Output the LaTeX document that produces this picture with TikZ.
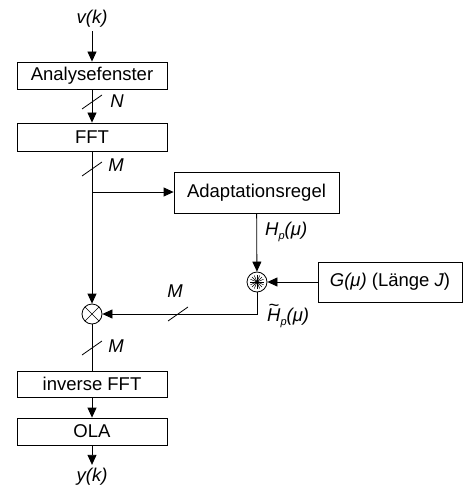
\documentclass[tikz,border=0pt]{standalone}
\usepackage{fontspec}
\setmainfont{Liberation Sans}
\usetikzlibrary{arrows.meta,calc,positioning}

\newcommand{\subp}{\raisebox{-4pt}{\fontsize{11}{11}\selectfont\itshape p}}
\newcommand{\tildeH}{\ooalign{\itshape H\cr\hidewidth\raisebox{0.5em}{\itshape\char"7E}\hidewidth\cr}}

\tikzset{
  blockbox/.style={draw, line width=0.8pt, minimum width=150pt, minimum height=27pt, inner sep=0pt},
  sigline/.style={line width=0.8pt},
  sigarrow/.style={sigline, -{Triangle[length=10pt,width=9pt]}},
  opcirc/.style={draw, circle, line width=0.8pt, minimum size=20pt, inner sep=0pt},
  multcross/.style={path picture={
      \draw[line width=0.7pt] (path picture bounding box.south west) -- (path picture bounding box.north east)
        (path picture bounding box.north west) -- (path picture bounding box.south east);}},
  convstar/.style={path picture={
      \foreach \a in {0,22.5,...,157.5}
        \draw[line width=0.5pt] ($(path picture bounding box.center)+(\a:7pt)$) -- ($(path picture bounding box.center)+(\a+180:7pt)$);}},
  busmark/.pic={\draw[line width=0.8pt] (-10pt,-7pt) -- (10pt,7pt);},
}

\begin{document}
\begin{tikzpicture}[x=1pt, y=-1pt, font=\fontsize{18.5}{22}\selectfont]
  \useasboundingbox (0,0) rectangle (463,486);

  % blocks
  \node[blockbox] (win) at (92,75.5) {Analysefenster};
  \node[blockbox, minimum height=28pt] (fft) at (92,137) {FFT};
  \node[blockbox, minimum width=165pt, minimum height=41pt] (adapt) at (256.5,192.5) {Adaptationsregel};
  \node[blockbox, minimum width=144pt, minimum height=40pt] (gbox) at (390,282) {\textit{G(μ)} (Länge \textit{J})};
  \node[blockbox, minimum height=26pt] (ifft) at (92,384) {inverse FFT};
  \node[blockbox] (ola) at (92,431.5) {OLA};

  % operators
  \node[opcirc, convstar] (conv) at (257,282) {};
  \node[opcirc, multcross] (mult) at (92,314) {};

  % signals
  \node (vin) at (92,19) {\textit{v(k)}};
  \node (yout) at (92,477) {\textit{y(k)}};
  \coordinate (split) at (92,192);
  \coordinate (bend) at (conv |- mult);

  \draw[sigarrow] (vin) -- (win);
  \draw[sigarrow] (win) -- (fft);
  \draw[sigarrow] (fft) -- (mult);
  \draw[sigarrow] (split) -- (split -| adapt.west);
  \draw[sigarrow] (adapt) -- (conv);
  \draw[sigarrow] (gbox) -- (conv);
  \draw[sigarrow] (conv) -- (bend) -- (mult);
  \draw[sigline] (mult) -- (ifft);
  \draw[sigarrow] (ifft) -- (ola);
  \draw[sigarrow] (ola) -- (yout);

  % bus widths
  \pic at (92,102) {busmark};
  \pic at (92,169) {busmark};
  \pic at (178,314) {busmark};
  \pic at (92,348) {busmark};
  \node (labN) at (117,101) {\textit{N}};
  \node (labM1) at (116,165) {\textit{M}};
  \node (labM2) at (175,291) {\textit{M}};
  \node (labM3) at (116,346) {\textit{M}};

  \node[anchor=base west, inner sep=0pt] (labH) at (265,235) {\textit{H}\subp\textit{(μ)}};
  \node[anchor=base west, inner sep=0pt] (labHt) at (267,321) {\tildeH\subp\textit{(μ)}};
\end{tikzpicture}
\end{document}
